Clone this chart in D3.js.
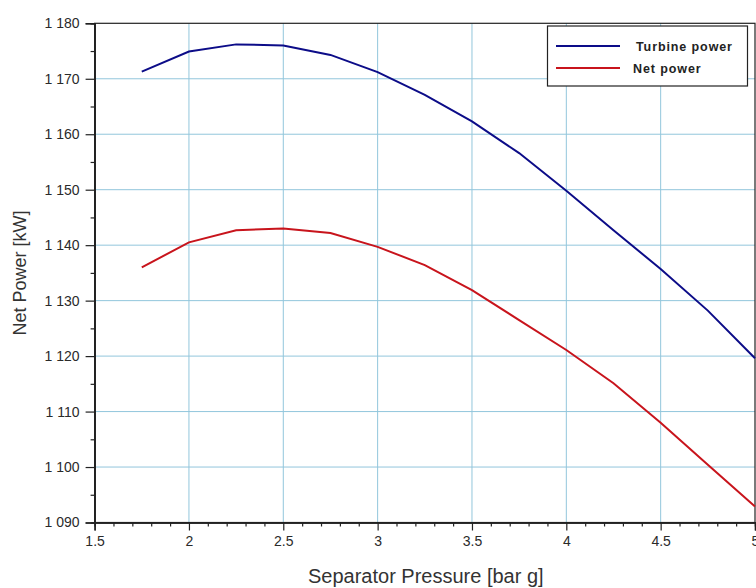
<!DOCTYPE html>
<html>
<head>
<meta charset="utf-8">
<script src="https://cdn.jsdelivr.net/npm/d3@7"></script>
<style>
    body { margin: 0; background: #fff; }
    text { font-family: "Liberation Sans", Arial, sans-serif; }
</style>
</head>
<body>
<div id="graph"></div>
<script>
// Separator pressure (bar g) and power (kW)
const pressure = [1.75, 2, 2.25, 2.5, 2.75, 3, 3.25, 3.5, 3.75, 4, 4.25, 4.5, 4.75, 5];
const turbinePower = [1171.3, 1174.9, 1176.2, 1176.0, 1174.3, 1171.2, 1167.1, 1162.3, 1156.6, 1149.8, 1142.7, 1135.7, 1128.2, 1119.6];
const netPower = [1136.0, 1140.5, 1142.7, 1143.0, 1142.2, 1139.7, 1136.4, 1131.9, 1126.5, 1121.1, 1115.1, 1108.0, 1100.4, 1092.9];

const xTicks = [1.5, 2, 2.5, 3, 3.5, 4, 4.5, 5];
const yTicks = [1090, 1100, 1110, 1120, 1130, 1140, 1150, 1160, 1170, 1180];
const seriesNames = ["Turbine power", "Net power"];
const seriesColors = ["#0c0c88", "#c8141c"];

let CANVAS_WIDTH = 756,
    CANVAS_HEIGHT = 588,
    LEFT = 94.6,
    RIGHT = 755,
    TOP = 23.3,
    BOTTOM = 522.5;

let vis = d3.select("#graph")
    .append("svg")
    .attr("width", CANVAS_WIDTH)
    .attr("height", CANVAS_HEIGHT);

let x = d3.scaleLinear().domain([1.5, 5]).range([LEFT, RIGHT]);
let y = d3.scaleLinear().domain([1090, 1180]).range([BOTTOM, TOP]);

// grid lines
let grid = vis.append("g").attr("stroke", "#92c6dc").attr("stroke-width", 1);
grid.selectAll("line.gx")
    .data(xTicks.slice(1, -1))
    .join("line")
    .attr("x1", d => x(d)).attr("x2", d => x(d))
    .attr("y1", TOP).attr("y2", BOTTOM);
grid.selectAll("line.gy")
    .data(yTicks.slice(1, -1))
    .join("line")
    .attr("class", "gy")
    .attr("x1", LEFT).attr("x2", RIGHT)
    .attr("y1", d => y(d)).attr("y2", d => y(d));

// frame
vis.append("rect")
    .attr("x", LEFT).attr("y", TOP)
    .attr("width", RIGHT - LEFT).attr("height", BOTTOM - TOP)
    .attr("fill", "none").attr("stroke", "#222").attr("stroke-width", 1.2);

// This code creates the axes.
let fmt = d => d3.format(",")(d).replace(",", " ");

let xAxis = vis.append("g")
    .attr("transform", `translate(0,${BOTTOM})`)
    .call(d3.axisBottom(x).tickValues(xTicks).tickSize(8).tickPadding(6).tickFormat(d3.format("")));
let xMinor = vis.append("g")
    .attr("transform", `translate(0,${BOTTOM})`)
    .call(d3.axisBottom(x).tickValues(d3.range(16, 50).map(d => d / 10).filter(d => Math.round(d * 10) % 5 != 0)).tickSize(4).tickFormat(""));

let yAxis = vis.append("g")
    .attr("transform", `translate(${LEFT},0)`)
    .call(d3.axisLeft(y).tickValues(yTicks).tickSize(9).tickPadding(6).tickFormat(fmt));
let yMinor = vis.append("g")
    .attr("transform", `translate(${LEFT},0)`)
    .call(d3.axisLeft(y).tickValues(yTicks.slice(0, -1).map(d => d + 5)).tickSize(4).tickFormat(""));

[xAxis, xMinor, yAxis, yMinor].forEach(a => {
    a.select(".domain").attr("stroke", "#222").attr("stroke-width", 1.5);
    a.selectAll(".tick line").attr("stroke", "#222").attr("stroke-width", 1.2);
    a.selectAll("text").attr("font-size", 14).attr("fill", "#2a2a2a")
        .attr("font-family", "'Liberation Sans', Arial, sans-serif");
});

// axis titles
vis.append("text")
    .attr("x", (LEFT + RIGHT) / 2 + 1).attr("y", 583)
    .attr("text-anchor", "middle")
    .attr("font-size", 20).attr("fill", "#333")
    .text("Separator Pressure [bar g]");
vis.append("text")
    .attr("transform", `translate(26,${(TOP + BOTTOM) / 2}) rotate(-90)`)
    .attr("text-anchor", "middle")
    .attr("font-size", 18).attr("fill", "#333")
    .text("Net Power [kW]");

// This code creates the lines.
let line = d3.line()
    .x((d, i) => x(pressure[i]))
    .y(d => y(d));

[turbinePower, netPower].forEach((s, i) => {
    vis.append("path")
        .attr("d", line(s))
        .attr("fill", "none")
        .attr("stroke", seriesColors[i])
        .attr("stroke-width", 2);
});

// legend
let legend = vis.append("g");
legend.append("rect")
    .attr("x", 547.5).attr("y", 26)
    .attr("width", 200).attr("height", 60)
    .attr("fill", "#fff").attr("stroke", "#222").attr("stroke-width", 1.2);
seriesNames.forEach((name, i) => {
    let ly = 46 + i * 22;
    legend.append("line")
        .attr("x1", 556).attr("x2", 620)
        .attr("y1", ly).attr("y2", ly)
        .attr("stroke", seriesColors[i]).attr("stroke-width", 2);
    legend.append("text")
        .attr("x", i == 0 ? 636 : 633).attr("y", ly + 4.5)
        .attr("font-size", 12.5).attr("font-weight", "bold")
        .attr("letter-spacing", 0.9).attr("fill", "#222")
        .text(name);
});
</script>
</body>
</html>
